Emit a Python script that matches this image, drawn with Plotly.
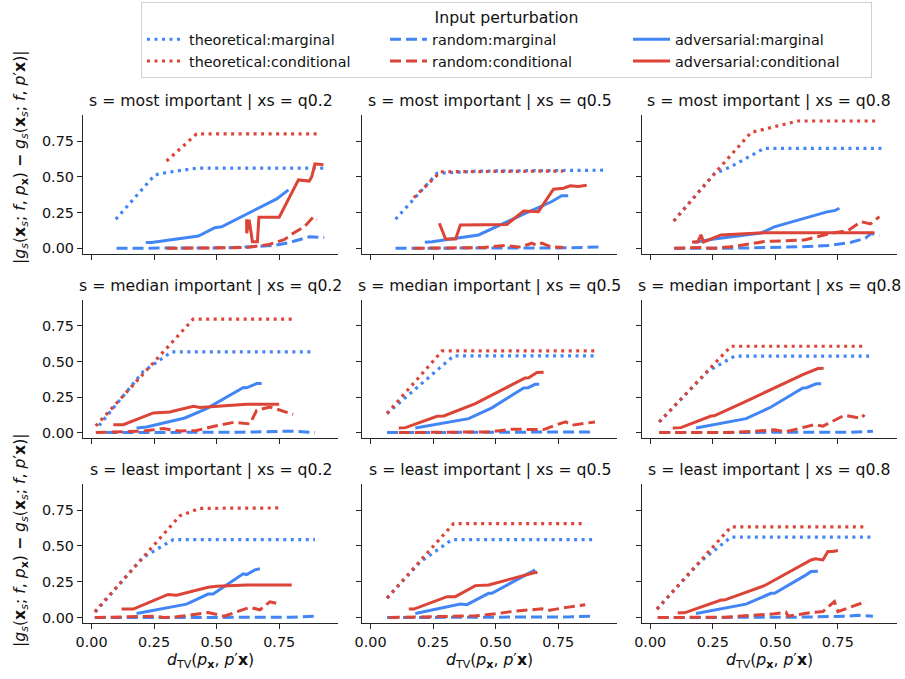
import plotly.graph_objects as go
from plotly.subplots import make_subplots

BLUE = "#4285F4"
RED = "#DB4437"

ROW_LABELS = ["most important", "median important", "least important"]
COL_LABELS = ["q0.2", "q0.5", "q0.8"]
TICK_VALS = [0, 0.25, 0.5, 0.75]
TICK_TEXT = ["0.00", "0.25", "0.50", "0.75"]
SERIES = ["theoretical:marginal", "random:marginal", "adversarial:marginal",
          "theoretical:conditional", "random:conditional", "adversarial:conditional"]

# ---- data: (x values, y values) per series, one dict per panel ----
most_q02 = {
    "theoretical:marginal": ([0.097, 0.253, 0.30, 0.42, 0.933], [0.203, 0.513, 0.53, 0.56, 0.56]),
    "random:marginal": ([0.10, 0.35, 0.55, 0.73, 0.79, 0.87, 0.93], [0.0, 0.0, 0.003, 0.02, 0.04, 0.08, 0.075]),
    "adversarial:marginal": ([0.217, 0.24, 0.427, 0.493, 0.52, 0.727, 0.74, 0.787], [0.04, 0.04, 0.086, 0.144, 0.15, 0.338, 0.345, 0.408]),
    "theoretical:conditional": ([0.30, 0.42, 0.90], [0.61, 0.80, 0.80]),
    "random:conditional": ([0.30, 0.50, 0.62, 0.71, 0.77, 0.806, 0.85, 0.887, 0.90], [0.0, 0.0, 0.005, 0.027, 0.06, 0.105, 0.15, 0.22, 0.2]),
    "adversarial:conditional": ([0.62, 0.62, 0.63, 0.643, 0.663, 0.669, 0.75, 0.827, 0.87, 0.88, 0.893, 0.927],
                                [0.203, 0.105, 0.2, 0.046, 0.046, 0.217, 0.217, 0.478, 0.47, 0.50, 0.59, 0.585]),
}
most_q05 = {
    "theoretical:marginal": ([0.10, 0.266, 0.43, 0.937], [0.203, 0.524, 0.54, 0.546]),
    "random:marginal": ([0.10, 0.5, 0.8, 0.917], [0.0, 0.0, 0.003, 0.01]),
    "adversarial:marginal": ([0.217, 0.246, 0.432, 0.5, 0.605, 0.725, 0.764, 0.79], [0.042, 0.046, 0.093, 0.15, 0.233, 0.327, 0.367, 0.367]),
    "theoretical:conditional": ([0.173, 0.28, 0.77], [0.354, 0.535, 0.54]),
    "random:conditional": ([0.173, 0.45, 0.538, 0.6, 0.645, 0.665, 0.685, 0.72, 0.771], [0.0, 0.005, 0.02, 0.008, 0.036, 0.02, 0.036, 0.01, 0.005]),
    "adversarial:conditional": ([0.275, 0.30, 0.34, 0.359, 0.545, 0.612, 0.671, 0.731, 0.771, 0.798, 0.831, 0.864],
                                [0.175, 0.065, 0.065, 0.163, 0.167, 0.261, 0.256, 0.413, 0.42, 0.437, 0.432, 0.44]),
}
most_q08 = {
    "theoretical:marginal": ([0.094, 0.256, 0.323, 0.456, 0.936], [0.191, 0.52, 0.571, 0.699, 0.699]),
    "random:marginal": ([0.096, 0.32, 0.59, 0.72, 0.803, 0.86, 0.883, 0.916], [0.0, 0.0, 0.01, 0.02, 0.042, 0.07, 0.105, 0.088]),
    "adversarial:marginal": ([0.176, 0.256, 0.443, 0.496, 0.71, 0.74, 0.756], [0.042, 0.065, 0.107, 0.15, 0.256, 0.265, 0.28]),
    "theoretical:conditional": ([0.094, 0.256, 0.403, 0.483, 0.59, 0.91], [0.191, 0.52, 0.81, 0.843, 0.89, 0.89]),
    "random:conditional": ([0.096, 0.2, 0.25, 0.32, 0.456, 0.616, 0.723, 0.79, 0.843, 0.88, 0.916],
                           [0.0, 0.005, 0.0, 0.01, 0.047, 0.058, 0.105, 0.123, 0.186, 0.17, 0.221]),
    "adversarial:conditional": ([0.167, 0.19, 0.203, 0.213, 0.283, 0.456, 0.896], [0.044, 0.044, 0.094, 0.044, 0.093, 0.109, 0.109]),
}
median_q02 = {
    "theoretical:marginal": ([0.03, 0.207, 0.32, 0.893], [0.05, 0.43, 0.567, 0.567]),
    "random:marginal": ([0.06, 0.6, 0.8, 0.893], [0.0, 0.003, 0.01, 0.0]),
    "adversarial:marginal": ([0.18, 0.22, 0.373, 0.46, 0.607, 0.62, 0.66, 0.68], [0.033, 0.04, 0.103, 0.169, 0.317, 0.315, 0.345, 0.345]),
    "theoretical:conditional": ([0.017, 0.406, 0.806], [0.047, 0.797, 0.797]),
    "random:conditional": ([0.017, 0.2, 0.286, 0.353, 0.42, 0.49, 0.57, 0.633, 0.66, 0.713, 0.806],
                           [0.0, 0.01, 0.028, 0.011, 0.015, 0.045, 0.073, 0.061, 0.157, 0.18, 0.128]),
    "adversarial:conditional": ([0.087, 0.127, 0.247, 0.313, 0.407, 0.433, 0.62, 0.75], [0.056, 0.056, 0.138, 0.145, 0.185, 0.176, 0.2, 0.2]),
}
median_q05 = {
    "theoretical:marginal": ([0.066, 0.332, 0.897], [0.134, 0.539, 0.54]),
    "random:marginal": ([0.066, 0.6, 0.8, 0.887], [0.0, 0.0, 0.002, 0.005]),
    "adversarial:marginal": ([0.179, 0.392, 0.485, 0.612, 0.63, 0.658, 0.674], [0.033, 0.098, 0.174, 0.314, 0.316, 0.339, 0.339]),
    "theoretical:conditional": ([0.066, 0.286, 0.897], [0.134, 0.574, 0.574]),
    "random:conditional": ([0.113, 0.472, 0.565, 0.692, 0.738, 0.78, 0.805, 0.845, 0.897], [0.0, 0.005, 0.024, 0.021, 0.052, 0.075, 0.052, 0.063, 0.075]),
    "adversarial:conditional": ([0.113, 0.14, 0.266, 0.293, 0.419, 0.618, 0.632, 0.665, 0.692], [0.033, 0.035, 0.115, 0.117, 0.204, 0.384, 0.386, 0.422, 0.424]),
}
median_q08 = {
    "theoretical:marginal": ([0.036, 0.23, 0.336, 0.89], [0.075, 0.43, 0.537, 0.537]),
    "random:marginal": ([0.036, 0.6, 0.8, 0.89], [0.0, 0.0, 0.003, 0.01]),
    "adversarial:marginal": ([0.183, 0.383, 0.483, 0.61, 0.625, 0.663, 0.683], [0.033, 0.098, 0.18, 0.314, 0.316, 0.343, 0.343]),
    "theoretical:conditional": ([0.036, 0.323, 0.856], [0.075, 0.607, 0.607]),
    "random:conditional": ([0.036, 0.3, 0.42, 0.496, 0.54, 0.656, 0.69, 0.776, 0.843, 0.856], [0.0, 0.0, 0.01, 0.02, 0.005, 0.056, 0.045, 0.122, 0.1, 0.126]),
    "adversarial:conditional": ([0.09, 0.123, 0.243, 0.256, 0.376, 0.61, 0.67, 0.693], [0.033, 0.035, 0.116, 0.118, 0.215, 0.408, 0.45, 0.452]),
}
least_q02 = {
    "theoretical:marginal": ([0.015, 0.206, 0.327, 0.893], [0.04, 0.42, 0.544, 0.544]),
    "random:marginal": ([0.013, 0.6, 0.8, 0.893], [0.0, 0.0, 0.002, 0.01]),
    "adversarial:marginal": ([0.18, 0.38, 0.466, 0.486, 0.606, 0.62, 0.653, 0.673], [0.029, 0.094, 0.164, 0.165, 0.305, 0.3, 0.333, 0.34]),
    "theoretical:conditional": ([0.013, 0.30, 0.353, 0.433, 0.76], [0.04, 0.609, 0.71, 0.762, 0.765]),
    "random:conditional": ([0.013, 0.25, 0.29, 0.34, 0.466, 0.53, 0.633, 0.673, 0.713, 0.753], [0.0, 0.01, 0.0, 0.005, 0.035, 0.01, 0.071, 0.054, 0.11, 0.094]),
    "adversarial:conditional": ([0.12, 0.167, 0.306, 0.34, 0.466, 0.5, 0.62, 0.7, 0.74, 0.8], [0.059, 0.059, 0.161, 0.156, 0.211, 0.218, 0.227, 0.227, 0.23, 0.227]),
}
least_q05 = {
    "theoretical:marginal": ([0.066, 0.2, 0.326, 0.891], [0.136, 0.39, 0.544, 0.544]),
    "random:marginal": ([0.066, 0.6, 0.8, 0.891], [0.0, 0.002, 0.005, 0.01]),
    "adversarial:marginal": ([0.179, 0.359, 0.385, 0.472, 0.485, 0.658], [0.029, 0.094, 0.09, 0.169, 0.17, 0.333]),
    "theoretical:conditional": ([0.066, 0.2, 0.332, 0.851], [0.136, 0.40, 0.656, 0.656]),
    "random:conditional": ([0.073, 0.3, 0.42, 0.499, 0.578, 0.685, 0.71, 0.791, 0.858], [0.0, 0.005, 0.012, 0.026, 0.045, 0.061, 0.05, 0.073, 0.09]),
    "adversarial:conditional": ([0.153, 0.173, 0.306, 0.339, 0.419, 0.472, 0.665, 0.66], [0.059, 0.059, 0.146, 0.146, 0.223, 0.228, 0.318, 0.31]),
}
least_q08 = {
    "theoretical:marginal": ([0.027, 0.2, 0.323, 0.89], [0.059, 0.39, 0.562, 0.562]),
    "random:marginal": ([0.03, 0.6, 0.79, 0.83, 0.89], [0.0, 0.003, 0.01, 0.016, 0.01]),
    "adversarial:marginal": ([0.183, 0.383, 0.483, 0.497, 0.623, 0.643, 0.67], [0.029, 0.094, 0.169, 0.17, 0.298, 0.322, 0.324]),
    "theoretical:conditional": ([0.027, 0.323, 0.863], [0.059, 0.633, 0.633]),
    "random:conditional": ([0.03, 0.3, 0.496, 0.543, 0.55, 0.65, 0.69, 0.736, 0.75, 0.79, 0.863],
                           [0.0, 0.003, 0.026, 0.037, 0.01, 0.037, 0.042, 0.112, 0.042, 0.066, 0.112]),
    "adversarial:conditional": ([0.11, 0.137, 0.283, 0.296, 0.456, 0.643, 0.66, 0.69, 0.71, 0.73, 0.75],
                                [0.033, 0.033, 0.122, 0.122, 0.222, 0.402, 0.41, 0.402, 0.461, 0.461, 0.468]),
}

PANELS = [[most_q02, most_q05, most_q08],
          [median_q02, median_q05, median_q08],
          [least_q02, least_q05, least_q08]]

# ---- styling ----
FONT = "DejaVu Sans"
W, H = 905, 679
DASH = {"theoretical": "3px,4.5px", "random": "11px,5px", "adversarial": "solid"}
COLOR = {"marginal": BLUE, "conditional": RED}
WIDTH = {"theoretical": 3.2, "random": 3, "adversarial": 3}

col_px = [(83, 338), (362, 617), (641.7, 896.7)]
row_px = [(115, 254), (300, 438.3), (484, 623.3)]

fig = make_subplots(rows=3, cols=3, shared_xaxes=True, shared_yaxes=True)

for r in range(3):
    for c in range(3):
        panel = PANELS[r][c]
        for name in SERIES:
            method, kind = name.split(":")
            xs, ys = panel[name]
            fig.add_trace(go.Scatter(
                x=xs, y=ys, mode="lines", name=name,
                legendrank=SERIES.index(name) + 1,
                line=dict(color=COLOR[kind], dash=DASH[method], width=WIDTH[method]),
                showlegend=(r == 0 and c == 0), hoverinfo="skip"),
                row=r + 1, col=c + 1)

axis_common = dict(showline=True, linecolor="#262626", linewidth=1.2, ticks="outside",
                   ticklen=5, tickwidth=1.2, tickcolor="#262626", showgrid=False,
                   zeroline=False, automargin=False,
                   tickfont=dict(family=FONT, size=14.4, color="#111"))

for r in range(3):
    for c in range(3):
        idx = r * 3 + c + 1
        sfx = "" if idx == 1 else str(idx)
        x0, x1 = col_px[c]
        y0, y1 = row_px[r]
        fig.layout["xaxis" + sfx].update(
            domain=[x0 / W, x1 / W], range=[-0.034, 0.985], tickvals=TICK_VALS,
            ticktext=TICK_TEXT, showticklabels=(r == 2), **axis_common)
        fig.layout["yaxis" + sfx].update(
            domain=[1 - y1 / H, 1 - y0 / H], range=[-0.04, 0.932], tickvals=TICK_VALS,
            ticktext=TICK_TEXT, showticklabels=(c == 0), **axis_common)
        fig.add_annotation(
            text=f"s = {ROW_LABELS[r]} | xs = {COL_LABELS[c]}", xref="paper", yref="paper",
            x=(x0 + x1) / 2 / W, y=1 - (y0 - 14.5) / H, xanchor="center", yanchor="middle",
            showarrow=False, font=dict(family=FONT, size=15.7, color="#111"))

xlabel = "<i>d</i><sub>TV</sub>(<i>p</i><sub><b>x</b></sub>, <i>p</i>′<b>x</b>)"
for c in range(3):
    x0, x1 = col_px[c]
    fig.add_annotation(text=xlabel, xref="paper", yref="paper", x=(x0 + x1) / 2 / W,
                       y=1 - 660 / H, xanchor="center", yanchor="middle", showarrow=False,
                       font=dict(family=FONT, size=15.7, color="#111"))

ylabel = ("|<i>g<sub>s</sub></i>(<b>x</b><sub><i>s</i></sub>; <i>f</i>, <i>p</i><sub><b>x</b></sub>) "
          "<b>−</b> <i>g<sub>s</sub></i>(<b>x</b><sub><i>s</i></sub>; <i>f</i>, <i>p</i>′<b>x</b>)|")
for yc in (157, 540):
    fig.add_annotation(text=ylabel, xref="paper", yref="paper", x=20 / W, y=1 - yc / H,
                       xanchor="center", yanchor="middle", textangle=-90, showarrow=False,
                       font=dict(family=FONT, size=15.7, color="#111"))

fig.update_layout(
    width=W, height=H, margin=dict(l=0, r=0, t=0, b=0, autoexpand=False),
    paper_bgcolor="white", plot_bgcolor="white",
    font=dict(family=FONT, color="#111"),
    legend=dict(orientation="h", x=141 / W, xanchor="left", y=1 - 2 / H, yanchor="top",
                bgcolor="white", bordercolor="#d0d0d0", borderwidth=1,
                itemwidth=37, entrywidth=191, entrywidthmode="pixels",
                font=dict(family=FONT, size=14.4, color="#111"),
                title=dict(text="Input perturbation", side="top center",
                           font=dict(family=FONT, size=15.7, color="#111"))),
)

fig.write_html("out.html", config={"displayModeBar": False},
               post_script="document.body.style.margin='0px';document.body.style.overflow='hidden';")
